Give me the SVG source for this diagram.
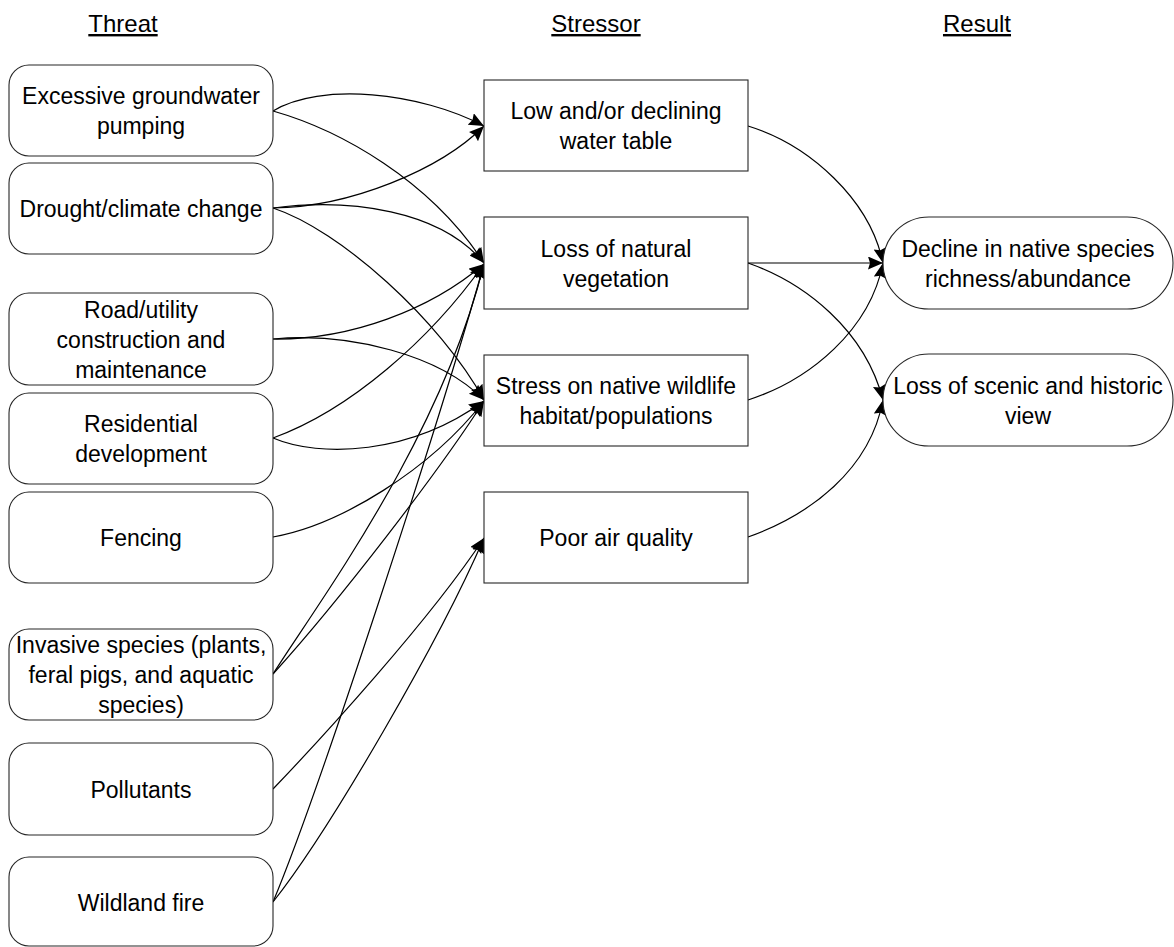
<svg xmlns="http://www.w3.org/2000/svg" width="1174" height="947" viewBox="0 0 1174 947">
<style>
  .node { fill: #ffffff; stroke: #262626; stroke-width: 1.1; }
  .t { font-family: "Liberation Sans", Arial, sans-serif; font-size: 23px; fill: #000; text-anchor: middle; }
  .h { font-family: "Liberation Sans", Arial, sans-serif; font-size: 24px; fill: #000; text-anchor: middle; text-decoration: underline; }
  .edge { fill: none; stroke: #000; stroke-width: 1.2; marker-end: url(#arr); }
</style>
<defs>
  <marker id="arr" markerUnits="userSpaceOnUse" markerWidth="18" markerHeight="16" refX="15" refY="6.5" orient="auto">
    <path d="M0,0 L15,6.5 L0,13 L2,6.5 z" fill="#000"/>
  </marker>
</defs>
<rect width="1174" height="947" fill="#ffffff"/>

<g id="headers">
  <text class="h" x="123" y="32">Threat</text>
  <text class="h" x="596" y="32">Stressor</text>
  <text class="h" x="977" y="32">Result</text>
</g>

<g id="connectors">
  <path class="edge" d="M273,111 C320,82 420,92 484,126"/>
  <path class="edge" d="M273,111 C340,130 430,180 484,263"/>
  <path class="edge" d="M273,208 C350,207 440,170 484,126"/>
  <path class="edge" d="M273,208 C350,198 440,210 484,263"/>
  <path class="edge" d="M273,208 C340,230 440,320 484,400"/>
  <path class="edge" d="M273,339 C350,340 430,310 484,264"/>
  <path class="edge" d="M273,339 C350,332 440,355 484,400"/>
  <path class="edge" d="M273,438 C350,410 430,340 484,264"/>
  <path class="edge" d="M273,438 C320,458 410,455 484,401"/>
  <path class="edge" d="M273,537 C340,525 430,470 484,401"/>
  <path class="edge" d="M273,674 C320,600 440,440 484,264"/>
  <path class="edge" d="M273,674 C340,600 440,470 484,401"/>
  <path class="edge" d="M273,789 C320,740 430,620 484,538"/>
  <path class="edge" d="M273,902 C320,790 440,420 484,264"/>
  <path class="edge" d="M273,902 C330,830 440,640 484,538"/>
  <path class="edge" d="M748,126 C810,145 870,200 883,263"/>
  <path class="edge" d="M748,263 L883,263"/>
  <path class="edge" d="M748,263 C805,283 865,330 883,400"/>
  <path class="edge" d="M748,400 C810,380 870,330 883,263"/>
  <path class="edge" d="M748,537 C810,515 870,470 883,400"/>
</g>

<g id="threat-excessive">
  <rect class="node" x="9" y="65" width="264" height="91" rx="20"/>
  <text class="t" x="141" y="104">Excessive groundwater</text>
  <text class="t" x="141" y="134">pumping</text>
</g>
<g id="threat-drought">
  <rect class="node" x="9" y="163" width="264" height="91" rx="20"/>
  <text class="t" x="141" y="217">Drought/climate change</text>
</g>
<g id="threat-road">
  <rect class="node" x="9" y="293" width="264" height="92" rx="20"/>
  <text class="t" x="141" y="318">Road/utility</text>
  <text class="t" x="141" y="348">construction and</text>
  <text class="t" x="141" y="378">maintenance</text>
</g>
<g id="threat-residential">
  <rect class="node" x="9" y="393" width="264" height="91" rx="20"/>
  <text class="t" x="141" y="432">Residential</text>
  <text class="t" x="141" y="462">development</text>
</g>
<g id="threat-fencing">
  <rect class="node" x="9" y="492" width="264" height="91" rx="20"/>
  <text class="t" x="141" y="546">Fencing</text>
</g>
<g id="threat-invasive">
  <rect class="node" x="9" y="629" width="264" height="91" rx="20"/>
  <text class="t" x="141" y="653">Invasive species (plants,</text>
  <text class="t" x="141" y="683">feral pigs, and aquatic</text>
  <text class="t" x="141" y="713">species)</text>
</g>
<g id="threat-pollutants">
  <rect class="node" x="9" y="743" width="264" height="92" rx="20"/>
  <text class="t" x="141" y="798">Pollutants</text>
</g>
<g id="threat-wildland">
  <rect class="node" x="9" y="857" width="264" height="89" rx="20"/>
  <text class="t" x="141" y="911">Wildland fire</text>
</g>

<g id="stressor-water">
  <rect class="node" x="484" y="80" width="264" height="91"/>
  <text class="t" x="616" y="119">Low and/or declining</text>
  <text class="t" x="616" y="149">water table</text>
</g>
<g id="stressor-vegetation">
  <rect class="node" x="484" y="217" width="264" height="92"/>
  <text class="t" x="616" y="256.5">Loss of natural</text>
  <text class="t" x="616" y="286.5">vegetation</text>
</g>
<g id="stressor-wildlife">
  <rect class="node" x="484" y="355" width="264" height="91"/>
  <text class="t" x="616" y="394">Stress on native wildlife</text>
  <text class="t" x="616" y="424">habitat/populations</text>
</g>
<g id="stressor-air">
  <rect class="node" x="484" y="492" width="264" height="91"/>
  <text class="t" x="616" y="546">Poor air quality</text>
</g>

<g id="result-decline">
  <rect class="node" x="883" y="217" width="290" height="92" rx="46"/>
  <text class="t" x="1028" y="256.5">Decline in native species</text>
  <text class="t" x="1028" y="286.5">richness/abundance</text>
</g>
<g id="result-scenic">
  <rect class="node" x="883" y="354" width="290" height="92" rx="46"/>
  <text class="t" x="1028" y="393.5">Loss of scenic and historic</text>
  <text class="t" x="1028" y="423.5">view</text>
</g>
</svg>
